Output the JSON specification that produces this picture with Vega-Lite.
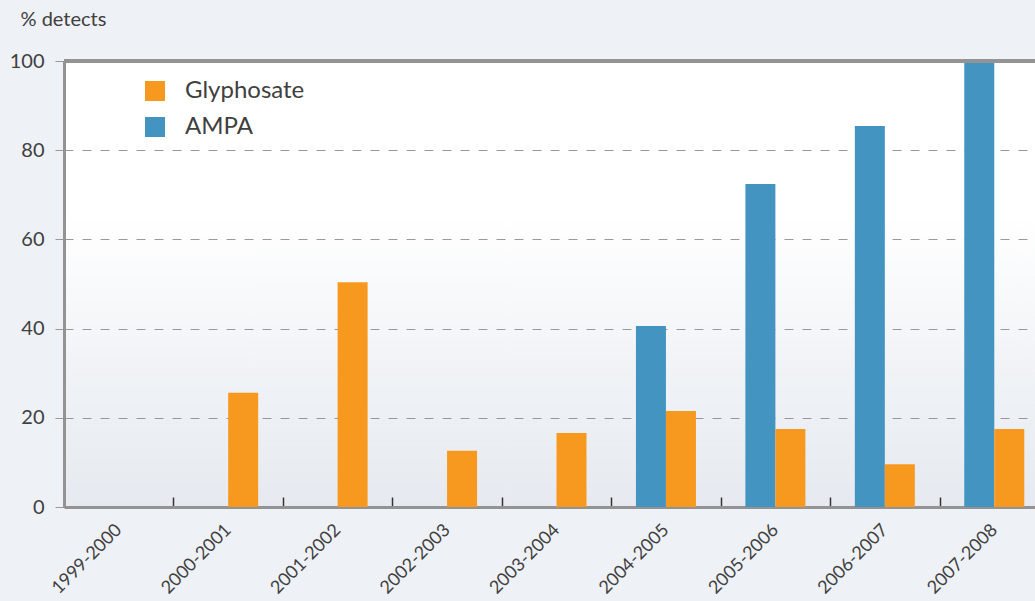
{
  "$schema": "https://vega.github.io/schema/vega-lite/v6.json",
  "autosize": {"type": "none"},
  "width": 971,
  "height": 446,
  "padding": {"left": 64, "top": 61, "right": 0, "bottom": 94},
  "background": "#eef1f5",
  "config": {
    "view": {"stroke": null, "fill": {"gradient": "linear", "x1": 0, "y1": 0, "x2": 0, "y2": 1, "stops": [{"offset": 0, "color": "#ffffff"}, {"offset": 0.35, "color": "#ffffff"}, {"offset": 0.75, "color": "#eef1f5"}, {"offset": 1, "color": "#e6eaf0"}]}},
    "font": "Lato"
  },
  "data": {
    "values": [
      {"season": "2000-2001", "compound": "Glyphosate", "pct": 25.6},
      {"season": "2001-2002", "compound": "Glyphosate", "pct": 50.4},
      {"season": "2002-2003", "compound": "Glyphosate", "pct": 12.6},
      {"season": "2003-2004", "compound": "Glyphosate", "pct": 16.6},
      {"season": "2004-2005", "compound": "AMPA", "pct": 40.6},
      {"season": "2004-2005", "compound": "Glyphosate", "pct": 21.5},
      {"season": "2005-2006", "compound": "AMPA", "pct": 72.4},
      {"season": "2005-2006", "compound": "Glyphosate", "pct": 17.5},
      {"season": "2006-2007", "compound": "AMPA", "pct": 85.4},
      {"season": "2006-2007", "compound": "Glyphosate", "pct": 9.6},
      {"season": "2007-2008", "compound": "AMPA", "pct": 100},
      {"season": "2007-2008", "compound": "Glyphosate", "pct": 17.5}
    ]
  },
  "layer": [
    {
      "mark": {"type": "bar"},
      "encoding": {
        "x": {
          "field": "season", "type": "nominal",
          "scale": {"domain": ["1999-2000","2000-2001","2001-2002","2002-2003","2003-2004","2004-2005","2005-2006","2006-2007","2007-2008"], "range": [0, 985], "paddingInner": 0, "paddingOuter": 0},
          "axis": {"title": null, "labelAngle": -45, "labelAlign": "right", "labelBaseline": "middle", "labelFontSize": 18, "labelColor": "#404040", "labelPadding": 30, "tickBand": "extent", "tickSize": -10, "tickColor": "#333333", "tickWidth": 1.5, "domainColor": "#939393", "domainWidth": 3, "grid": false}
        },
        "xOffset": {"field": "compound", "type": "nominal", "sort": ["AMPA", "Glyphosate"], "scale": {"domain": ["AMPA", "Glyphosate"], "paddingInner": 0, "paddingOuter": 0.824}},
        "y": {
          "field": "pct", "type": "quantitative",
          "scale": {"domain": [0, 100], "nice": false},
          "axis": {"title": "% detects", "titleAngle": 0, "titleAlign": "left", "titleBaseline": "alphabetic", "titleX": -44, "titleY": -36, "titleFontSize": 20, "titleFontWeight": "normal", "titleColor": "#404040", "values": [0, 20, 40, 60, 80, 100], "labelFontSize": 20, "labelColor": "#404040", "labelPadding": 10, "tickSize": 10, "tickColor": "#999999", "tickDash": [9, 9], "domainColor": "#939393", "domainWidth": 3, "gridColor": "#999999", "gridDash": [9, 9], "gridWidth": 1}
        },
        "color": {
          "field": "compound", "type": "nominal",
          "scale": {"domain": ["Glyphosate", "AMPA"], "range": ["#f7991e", "#4394c1"]},
          "legend": {"title": null, "orient": "none", "legendX": 79, "legendY": 18, "symbolType": "square", "symbolSize": 400, "symbolStrokeWidth": 0, "symbolOpacity": 1, "labelFontSize": 24, "labelColor": "#404040", "labelOffset": 18, "rowPadding": 12}
        }
      }
    },
    {
      "mark": {"type": "rule", "color": "#939393", "strokeWidth": 3},
      "encoding": {"y": {"datum": 100}}
    }
  ]
}
